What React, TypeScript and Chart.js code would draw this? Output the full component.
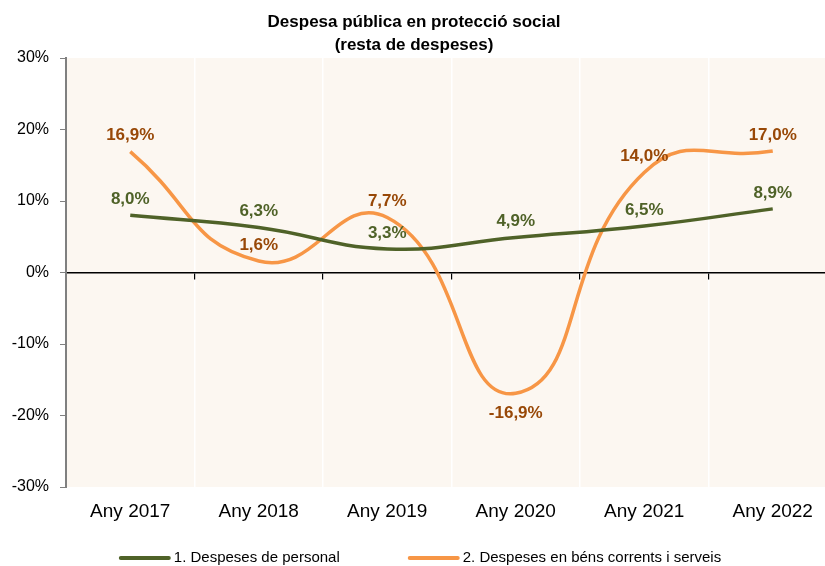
import React, { useEffect, useRef } from 'react';
import { Chart, registerables } from 'chart.js';
Chart.register(...registerables);

const categories = ['Any 2017', 'Any 2018', 'Any 2019', 'Any 2020', 'Any 2021', 'Any 2022'];
const personalValues = [8.0, 6.3, 3.3, 4.9, 6.5, 8.9];
const bensValues = [16.9, 1.6, 7.7, -16.9, 14.0, 17.0];
const yMin = -30;
const yMax = 30;
const yStep = 10;
const titleLines = ['Despesa pública en protecció social', '(resta de despeses)'];
const seriesNames = ['1. Despeses de personal', '2. Despeses en béns corrents i serveis'];

const FONT = '"Liberation Sans", Arial, sans-serif';
const GREEN = '#4F6228';
const ORANGE = '#F79646';
const ORANGE_LABEL = '#984807';
const PLOT_BG = '#FCF7F1';

const fmt = (v: number) => v.toFixed(1).replace('.', ',') + '%';

const bgPlugin = {
  id: 'plotBg',
  beforeDraw(chart: any) {
    const { ctx, chartArea } = chart;
    ctx.save();
    ctx.fillStyle = PLOT_BG;
    ctx.fillRect(chartArea.left, chartArea.top, chartArea.right - chartArea.left, chartArea.bottom - chartArea.top);
    ctx.restore();
  },
};

const titlePlugin = {
  id: 'customTitle',
  afterDraw(chart: any) {
    const { ctx } = chart;
    ctx.save();
    ctx.font = `bold 17px ${FONT}`;
    ctx.fillStyle = '#000';
    ctx.textAlign = 'center';
    ctx.textBaseline = 'middle';
    ctx.fillText(titleLines[0], 414, 22);
    ctx.fillText(titleLines[1], 414, 45);
    ctx.restore();
  },
};

const legendPlugin = {
  id: 'customLegend',
  afterDraw(chart: any) {
    const { ctx } = chart;
    ctx.save();
    ctx.font = `15px ${FONT}`;
    const lineW = 52, gap = 3, between = 68;
    const w1 = ctx.measureText(seriesNames[0]).width;
    const w2 = ctx.measureText(seriesNames[1]).width;
    const total = lineW + gap + w1 + between + lineW + gap + w2;
    let x = 420 - total / 2;
    const y = 558;
    const items = [
      { name: seriesNames[0], color: chart.data.datasets[0].borderColor, w: w1 },
      { name: seriesNames[1], color: chart.data.datasets[1].borderColor, w: w2 },
    ];
    ctx.textBaseline = 'middle';
    ctx.textAlign = 'left';
    items.forEach((it) => {
      ctx.strokeStyle = it.color;
      ctx.lineWidth = 4;
      ctx.lineCap = 'round';
      ctx.beginPath();
      ctx.moveTo(x + 2, y);
      ctx.lineTo(x + lineW - 2, y);
      ctx.stroke();
      ctx.fillStyle = '#000';
      ctx.fillText(it.name, x + lineW + gap, y);
      x += lineW + gap + it.w + between;
    });
    ctx.restore();
  },
};

const labelPlugin = {
  id: 'valueLabels',
  afterDatasetsDraw(chart: any) {
    const { ctx } = chart;
    ctx.save();
    ctx.font = `bold 17px ${FONT}`;
    ctx.textAlign = 'center';
    ctx.textBaseline = 'middle';
    chart.data.datasets.forEach((ds: any, di: number) => {
      const meta = chart.getDatasetMeta(di);
      ctx.fillStyle = ds.labelColor;
      meta.data.forEach((pt: any, i: number) => {
        const v = ds.data[i];
        const dy = v < 0 ? 20 : -16;
        ctx.fillText(fmt(v), pt.x, pt.y + dy);
      });
    });
    ctx.restore();
  },
};

export default function App() {
  const ref = useRef<HTMLCanvasElement | null>(null);
  useEffect(() => {
    if (!ref.current) return;
    Chart.defaults.font.family = FONT;
    const chart = new Chart(ref.current, {
      type: 'line',
      data: {
        labels: categories,
        datasets: [
          {
            label: seriesNames[0],
            data: personalValues,
            borderColor: GREEN,
            backgroundColor: GREEN,
            borderWidth: 3.5,
            pointRadius: 0,
            tension: 0.45,
            labelColor: GREEN,
          } as any,
          {
            label: seriesNames[1],
            data: bensValues,
            borderColor: ORANGE,
            backgroundColor: ORANGE,
            borderWidth: 3.5,
            pointRadius: 0,
            tension: 0.5,
            labelColor: ORANGE_LABEL,
          } as any,
        ],
      },
      options: {
        responsive: false,
        devicePixelRatio: 1,
        animation: false,
        layout: { padding: { top: 58, right: 3, left: 0, bottom: 0 } },
        plugins: {
          legend: { display: false },
          title: { display: false },
          tooltip: { enabled: false },
        },
        scales: {
          x: {
            type: 'category',
            offset: true,
            grid: { offset: true, color: '#ffffff', lineWidth: 1.5, drawTicks: false },
            border: { display: false },
            ticks: { font: { size: 19, family: FONT }, color: '#000', padding: 13, maxRotation: 0, autoSkip: false },
            afterFit: (s: any) => { s.height = 79; },
          },
          x0: {
            type: 'category',
            labels: categories,
            offset: true,
            position: { y: 0 },
            grid: { offset: true, drawOnChartArea: false, drawTicks: true, tickLength: 6, color: '#000', lineWidth: 1.2 },
            border: { display: true, color: '#000', width: 1.5 },
            ticks: { display: false },
          },
          y: {
            min: yMin,
            max: yMax,
            ticks: {
              stepSize: yStep,
              callback: (v: any) => `${v}%`,
              font: { size: 16, family: FONT },
              color: '#000',
              padding: 11,
            },
            grid: { drawOnChartArea: false, drawTicks: true, tickLength: 6, color: '#808080' },
            border: { color: '#808080', width: 2 },
            afterFit: (s: any) => { s.width = 66; },
          },
        } as any,
      },
      plugins: [bgPlugin, titlePlugin, legendPlugin, labelPlugin],
    });
    return () => chart.destroy();
  }, []);
  return (
    <div style={{ position: 'absolute', left: 0, top: 0, width: 825, height: 566, overflow: 'hidden', background: '#fff' }}>
      <canvas ref={ref} width={840} height={566} style={{ display: 'block' }} />
    </div>
  );
}
